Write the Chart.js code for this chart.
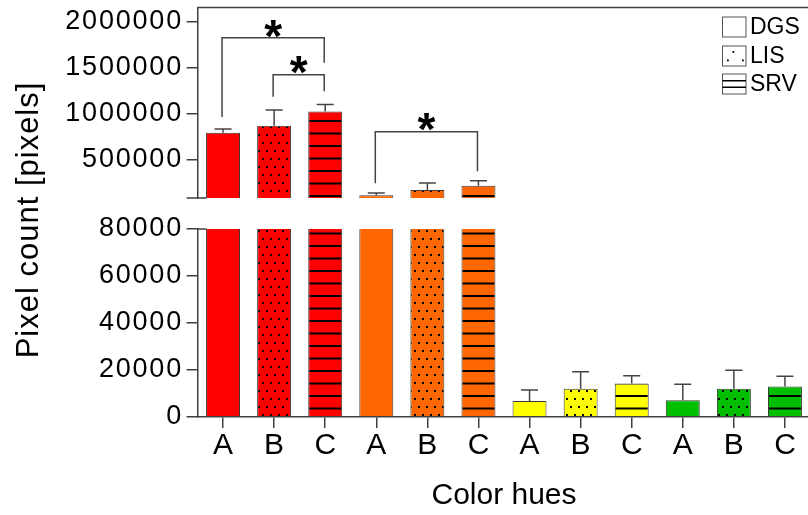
<!DOCTYPE html>
<html>
<head>
<meta charset="utf-8">
<script src="https://cdn.jsdelivr.net/npm/chart.js@4.4.1/dist/chart.umd.min.js"></script>
<style>
  html, body { margin: 0; padding: 0; background: #ffffff; overflow: hidden; }
  #wrap { width: 808px; height: 515px; overflow: hidden; position: relative; }
  canvas { display: block; }
</style>
</head>
<body>
<div id="wrap"><canvas id="chart" width="812" height="515"></canvas></div>
<script>
// ---- data ----
const categories = ['A', 'B', 'C', 'A', 'B', 'C', 'A', 'B', 'C', 'A', 'B', 'C'];
const conditions = ['DGS', 'LIS', 'SRV'];
const hueFills = ['#ff0000', '#ff6600', '#ffff00', '#00bf00'];   // red, orange, yellow, green groups
const meanValues  = [790000, 865000, 1020000, 110000, 167000, 213000, 6800, 12000, 14300, 7100, 12000, 13000];
const errorValues = [40000, 170000, 75000, 25000, 76000, 55000, 4700, 7300, 3300, 6800, 7900, 4300];
const upperTicks = [500000, 1000000, 1500000, 2000000];
const lowerTicks = [0, 20000, 40000, 60000, 80000];
const upperRange = [80000, 2150000];
const lowerRange = [0, 80000];
// significance brackets: bar indices and the heights of the left leg, the bar and the right leg
const bracketFrom   = [0, 1, 3];
const bracketTo     = [2, 2, 5];
const bracketLeftY  = [960000, 1180000, 240000];
const bracketTopY   = [1820000, 1420000, 800000];
const bracketRightY = [1550000, 1240000, 370000];
const bracketMark   = ['*', '*', '*'];

const FONT = '"Liberation Sans", Arial, Helvetica, sans-serif';
Chart.defaults.font.family = FONT;
Chart.defaults.color = '#000';

const AXIS = '#404040';
const EDGE = '#3a3a3a';

// fill patterns: plain for DGS, dots for LIS, horizontal stripes for SRV
function makeFill(color, kind) {
  if (kind === 0) return color;
  const c = document.createElement('canvas');
  const g = c.getContext('2d');
  if (kind === 1) {
    c.width = 8; c.height = 16;
    g.fillStyle = color; g.fillRect(0, 0, 8, 16);
    g.fillStyle = '#000';
    g.fillRect(6, 14, 2, 2);
    g.fillRect(2, 6, 2, 2);
  } else {
    c.width = 4; c.height = 25;
    g.fillStyle = color; g.fillRect(0, 0, 4, 25);
    g.fillStyle = '#000';
    g.fillRect(0, 7.5, 4, 2);
    g.fillRect(0, 20, 4, 2);
  }
  return g.createPattern(c, 'repeat');
}
const barFills = categories.map((_, i) => makeFill(hueFills[Math.floor(i / 3)], i % 3));
const upperData = meanValues.map(v => (v > upperRange[0] ? v : null));
const lowerData = meanValues.slice();

// each dataset is clipped to the band of its own value axis
const bandClip = {
  id: 'bandClip',
  beforeDatasetDraw(chart, args) {
    const s = chart.scales[args.meta.yAxisID];
    const a = chart.chartArea;
    const ctx = chart.ctx;
    ctx.save();
    ctx.beginPath();
    ctx.rect(a.left, s.top, a.right - a.left, s.bottom - s.top);
    ctx.clip();
  },
  afterDatasetDraw(chart) { chart.ctx.restore(); }
};

// wider spacing for the numeric axis labels (reset before the bars are drawn)
const tickSpacing = {
  id: 'tickSpacing',
  beforeDraw(chart) { chart.ctx.letterSpacing = '1.8px'; },
  beforeDatasetsDraw(chart) { chart.ctx.letterSpacing = '0px'; }
};

const decorations = {
  id: 'decorations',
  afterDatasetsDraw(chart) {
    const ctx = chart.ctx;
    const a = chart.chartArea;
    const yTop = chart.scales.yTop, yBot = chart.scales.yBot, x = chart.scales.x;

    // error bars (upper whiskers only)
    chart.data.datasets.forEach((ds, di) => {
      const meta = chart.getDatasetMeta(di);
      const s = chart.scales[meta.yAxisID];
      ctx.save();
      ctx.beginPath();
      ctx.rect(a.left, s.top - 1, a.right - a.left, s.bottom - s.top + 1);
      ctx.clip();
      ctx.strokeStyle = '#444';
      ctx.lineWidth = 1.5;
      meta.data.forEach((bar, i) => {
        const v = ds.data[i];
        if (v === null || v === undefined) return;
        const y0 = s.getPixelForValue(v);
        const y1 = s.getPixelForValue(v + errorValues[i]);
        ctx.beginPath();
        ctx.moveTo(bar.x, y0);
        ctx.lineTo(bar.x, y1);
        ctx.moveTo(bar.x - 8.5, y1);
        ctx.lineTo(bar.x + 8.5, y1);
        ctx.stroke();
      });
      ctx.restore();
    });

    // frame line along the top and the axis break stubs
    ctx.save();
    ctx.strokeStyle = AXIS;
    ctx.lineWidth = 1.5;
    ctx.beginPath();
    ctx.moveTo(a.left, yTop.top);
    ctx.lineTo(chart.width, yTop.top);
    ctx.moveTo(a.left - 11, yTop.bottom);
    ctx.lineTo(a.left + 9, yTop.bottom);
    ctx.moveTo(a.left, yBot.top);
    ctx.lineTo(a.left + 9, yBot.top);
    ctx.stroke();
    ctx.restore();

    // significance brackets
    ctx.save();
    ctx.strokeStyle = '#444';
    ctx.lineWidth = 1.5;
    ctx.fillStyle = '#000';
    ctx.font = 'bold 46px ' + FONT;
    ctx.textAlign = 'center';
    ctx.textBaseline = 'alphabetic';
    bracketFrom.forEach((f, k) => {
      const xl = x.getPixelForValue(f) - 1;
      const xr = x.getPixelForValue(bracketTo[k]) - 1;
      const yl = yTop.getPixelForValue(bracketLeftY[k]);
      const yt = yTop.getPixelForValue(bracketTopY[k]);
      const yr = yTop.getPixelForValue(bracketRightY[k]);
      ctx.beginPath();
      ctx.moveTo(xl, yl);
      ctx.lineTo(xl, yt);
      ctx.lineTo(xr, yt);
      ctx.lineTo(xr, yr);
      ctx.stroke();
      ctx.fillText(bracketMark[k], (xl + xr) / 2, yt - 12 + 0.56 * 46);
    });
    ctx.restore();

    // legend
    ctx.save();
    const lx = 722.5, bw = 23.5, bh = 20;
    const rows = [17, 46, 74];
    ctx.strokeStyle = '#555';
    ctx.lineWidth = 1;
    rows.forEach((ry, k) => {
      ctx.fillStyle = '#fff';
      ctx.fillRect(lx, ry, bw, bh);
      ctx.strokeRect(lx, ry, bw, bh);
      ctx.fillStyle = '#000';
      if (k === 1) {
        ctx.fillRect(lx + 10, ry + 5, 1.8, 1.8);
        ctx.fillRect(lx + 4.5, ry + 13.5, 1.8, 1.8);
        ctx.fillRect(lx + 19.5, ry + 13.5, 1.8, 1.8);
      } else if (k === 2) {
        ctx.save();
        ctx.strokeStyle = '#000';
        ctx.lineWidth = 1.5;
        ctx.beginPath();
        ctx.moveTo(lx, ry + bh / 3); ctx.lineTo(lx + bw, ry + bh / 3);
        ctx.moveTo(lx, ry + 2 * bh / 3); ctx.lineTo(lx + bw, ry + 2 * bh / 3);
        ctx.stroke();
        ctx.restore();
      }
      ctx.font = '23px ' + FONT;
      ctx.textAlign = 'left';
      ctx.textBaseline = 'middle';
      ctx.fillText(conditions[k], 750, ry + bh / 2 + 0.5);
    });
    ctx.restore();

    // value axis title spanning both bands
    ctx.save();
    ctx.translate(29, 220);
    ctx.rotate(-Math.PI / 2);
    ctx.font = '31px ' + FONT;
    ctx.letterSpacing = '1px';
    ctx.fillStyle = '#000';
    ctx.textAlign = 'center';
    ctx.textBaseline = 'middle';
    ctx.fillText('Pixel count [pixels]', 0, 0);
    ctx.restore();
  }
};

function noEdgePadding(s) {
  s.paddingTop = 0; s.paddingBottom = 0; s.paddingLeft = 0; s.paddingRight = 0;
}

function valueAxis(range, ticks, weight, stackWeight) {
  return {
    type: 'linear',
    position: 'left',
    stack: 'value',
    stackWeight: stackWeight,
    weight: weight,
    min: range[0],
    max: range[1],
    afterBuildTicks(s) { s.ticks = ticks.map(v => ({ value: v })); },
    afterFit(s) { s.width = 197.5; noEdgePadding(s); },
    grid: { display: true, drawOnChartArea: false, drawTicks: true, tickLength: 11, color: AXIS, lineWidth: 1.5 },
    border: { display: true, color: AXIS, width: 1.5 },
    ticks: { font: { size: 27 }, color: '#000', padding: 3.5, autoSkip: false, callback: v => String(v) }
  };
}

const barStyle = {
  backgroundColor: barFills,
  borderColor: EDGE,
  borderWidth: 1,
  grouped: false,
  categoryPercentage: 1,
  barPercentage: 0.665
};

new Chart(document.getElementById('chart'), {
  type: 'bar',
  data: {
    labels: categories,
    datasets: [
      Object.assign({ label: 'upper', data: upperData, yAxisID: 'yTop' }, barStyle),
      Object.assign({ label: 'lower', data: lowerData, yAxisID: 'yBot' }, barStyle)
    ]
  },
  options: {
    responsive: false,
    animation: false,
    events: [],
    layout: { padding: { top: 7.5, right: 1.5, bottom: 0, left: 0 } },
    plugins: { legend: { display: false }, tooltip: { enabled: false } },
    scales: {
      x: {
        type: 'category',
        offset: true,
        grid: { offset: false, drawOnChartArea: false, drawTicks: true, tickLength: 11, color: AXIS, lineWidth: 1.5, z: 1 },
        border: { display: true, color: AXIS, width: 1.5, z: 1 },
        ticks: { font: { size: 30 }, color: '#000', padding: 0, maxRotation: 0, autoSkip: false, z: 1 },
        title: { display: true, text: 'Color hues', font: { size: 30 }, color: '#000', padding: { top: 0, bottom: 1 } },
        afterFit(s) { s.height = 98; noEdgePadding(s); }
      },
      yBot: valueAxis(lowerRange, lowerTicks, 1, 188),
      yGap: {
        type: 'linear',
        position: 'left',
        stack: 'value',
        stackWeight: 31,
        weight: 2,
        display: true,
        afterFit(s) { s.width = 197.5; noEdgePadding(s); },
        grid: { display: false },
        border: { display: false },
        ticks: { display: false }
      },
      yTop: valueAxis(upperRange, upperTicks, 3, 190.5)
    }
  },
  plugins: [bandClip, tickSpacing, decorations]
});
</script>
</body>
</html>
